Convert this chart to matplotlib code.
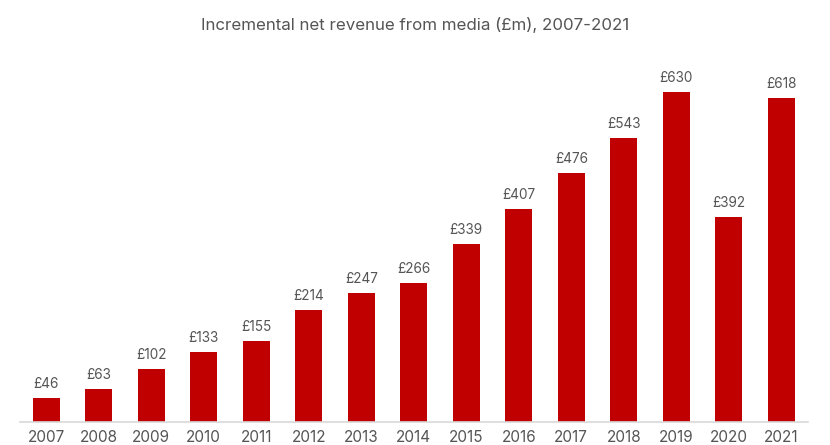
import matplotlib.pyplot as plt

plt.rcParams['font.family'] = ['Inter', 'DejaVu Sans']

# Incremental net revenue from media, £m
years = ['2007', '2008', '2009', '2010', '2011', '2012', '2013', '2014',
         '2015', '2016', '2017', '2018', '2019', '2020', '2021']
revenue = [46, 63, 102, 133, 155, 214, 247, 266, 339, 407, 476, 543, 630, 392, 618]

text_grey = '#555555'
bar_red = '#C00000'

fig = plt.figure(figsize=(8.3, 4.45), dpi=100)
ax = fig.add_axes([0.024, 0.0517, 0.949, 0.824])

x = range(len(years))
bars = ax.bar(x, revenue, width=0.52, color=bar_red)

for bar, val in zip(bars, revenue):
    ax.annotate(f'£{val}', (bar.get_x() + bar.get_width() / 2, val),
                xytext=(0, 5), textcoords='offset points',
                ha='center', va='bottom', fontsize=9.8, color=text_grey)

ax.set_xlim(-0.5, len(years) - 0.5)
ax.set_ylim(0, 700)
ax.set_xticks(list(x))
ax.set_xticklabels(years, fontsize=11, color=text_grey)
ax.set_yticks([])
ax.tick_params(axis='x', length=0, pad=6)

for side in ['top', 'right', 'left']:
    ax.spines[side].set_visible(False)
ax.spines['bottom'].set_color('#D9D9D9')
ax.spines['bottom'].set_linewidth(1.2)

fig.text(0.5, 0.943, 'Incremental net revenue from media (£m), 2007-2021',
         ha='center', va='center', fontsize=12.2, color=text_grey)

fig.savefig('out.png', dpi=100)
